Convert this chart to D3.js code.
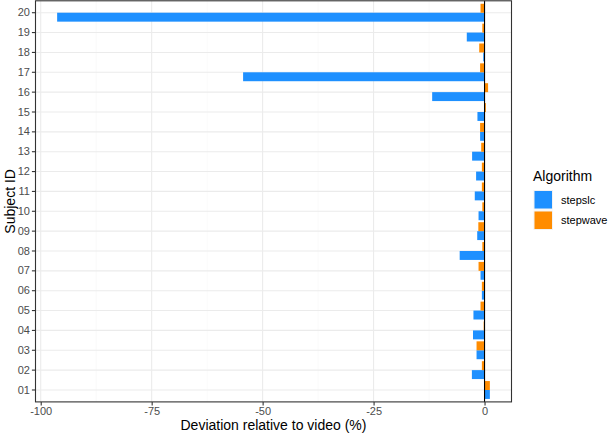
<!DOCTYPE html>
<html>
<head>
<meta charset="utf-8">
<script src="https://cdn.jsdelivr.net/npm/d3@7"></script>
<style>
  body { margin: 0; background: #fff; }
  svg { display: block; font-family: "Liberation Sans", Arial, Helvetica, sans-serif; }
</style>
</head>
<body>
<svg id="chart" width="609" height="436"></svg>
<script>
const subjects = ["01","02","03","04","05","06","07","08","09","10","11","12","13","14","15","16","17","18","19","20"];
const seriesNames = ["stepslc", "stepwave"];
const stepslc  = [1.2, -2.85, -1.8, -2.6, -2.5, -0.6, -0.9, -5.6, -1.65, -1.35, -2.2, -1.9, -2.8, -1.0, -1.6, -11.8, -54.4, -0.3, -4.0, -96.3];
const stepwave = [1.2, -0.6, -1.8, -0.2, -0.9, -0.6, -1.35, -0.5, -1.4, -0.5, -0.6, -0.6, -0.75, -1.0, 0.3, 0.8, -1.0, -1.2, -0.5, -0.9];
const xTicks = [-100, -75, -50, -25, 0];
const xMinor = [-87.5, -62.5, -37.5, -12.5];
const colors = { stepslc: "#1E90FF", stepwave: "#FF8C00" };

const svg = d3.select("#chart");
const L = 35.5, R = 511.5, T = 0.8, B = 401.9;

const dataMin = d3.min([...stepslc, ...stepwave]);
const dataMax = d3.max([...stepslc, ...stepwave]);
const pad = (dataMax - dataMin) * 0.05;
const x = d3.scaleLinear().domain([dataMin - pad, dataMax + pad]).range([L, R]);

const y = d3.scaleBand().domain(subjects.slice().reverse()).range([T, B])
  .paddingInner(0.1).paddingOuter(0.15);
const ySub = d3.scaleBand().domain(["stepwave", "stepslc"]).range([0, y.bandwidth()]);

// panel background
svg.append("rect").attr("x", L).attr("y", T).attr("width", R - L).attr("height", B - T).attr("fill", "#fff");

const grid = svg.append("g");
grid.selectAll(".minor").data(xMinor).join("line")
  .attr("x1", d => x(d)).attr("x2", d => x(d)).attr("y1", T).attr("y2", B)
  .attr("stroke", "#F5F5F5").attr("stroke-width", 0.55);
grid.selectAll(".majx").data(xTicks).join("line")
  .attr("x1", d => x(d)).attr("x2", d => x(d)).attr("y1", T).attr("y2", B)
  .attr("stroke", "#EBEBEB").attr("stroke-width", 1.1);
grid.selectAll(".majy").data(subjects).join("line")
  .attr("x1", L).attr("x2", R).attr("y1", d => y(d) + y.bandwidth() / 2).attr("y2", d => y(d) + y.bandwidth() / 2)
  .attr("stroke", "#EBEBEB").attr("stroke-width", 1.1);

// bars
const rows = [];
subjects.forEach((s, i) => {
  rows.push({ subject: s, series: "stepslc", value: stepslc[i] });
  rows.push({ subject: s, series: "stepwave", value: stepwave[i] });
});
svg.append("g").selectAll("rect").data(rows).join("rect")
  .attr("x", d => Math.min(x(0), x(d.value)))
  .attr("width", d => Math.abs(x(d.value) - x(0)))
  .attr("y", d => y(d.subject) + ySub(d.series))
  .attr("height", ySub.bandwidth())
  .attr("fill", d => colors[d.series]);

// zero line
svg.append("line").attr("x1", x(0)).attr("x2", x(0)).attr("y1", T).attr("y2", B)
  .attr("stroke", "#000").attr("stroke-width", 1.1);

// panel border
svg.append("rect").attr("x", L).attr("y", T).attr("width", R - L).attr("height", B - T)
  .attr("fill", "none").attr("stroke", "#333333").attr("stroke-width", 1.1);

// axes
const xAxis = svg.append("g").attr("transform", `translate(0,${B})`)
  .call(d3.axisBottom(x).tickValues(xTicks).tickSize(3.6).tickSizeOuter(0).tickFormat(d3.format("d")).tickPadding(2));
const yAxis = svg.append("g").attr("transform", `translate(${L},0)`)
  .call(d3.axisLeft(y).tickSize(3.6).tickSizeOuter(0).tickPadding(2));
[xAxis, yAxis].forEach(a => {
  a.select(".domain").remove();
  a.selectAll(".tick line").attr("stroke", "#333333").attr("stroke-width", 1.1);
  a.selectAll(".tick text").attr("fill", "#4D4D4D").style("font-size", "11px")
    .style("font-family", '"Liberation Sans", Arial, sans-serif');
});
xAxis.selectAll(".tick text").text(d => d < 0 ? "-" + Math.abs(d) : d);

// axis titles
svg.append("text").attr("x", (L + R) / 2).attr("y", 430).attr("text-anchor", "middle")
  .style("font-size", "14px").attr("fill", "#000").text("Deviation relative to video (%)");
svg.append("text").attr("transform", `translate(15,${(T + B) / 2}) rotate(-90)`).attr("text-anchor", "middle")
  .style("font-size", "14px").attr("fill", "#000").text("Subject ID");

// legend
const lg = svg.append("g").attr("transform", "translate(533,0)");
lg.append("text").attr("x", 0).attr("y", 181).style("font-size", "14px").attr("fill", "#000").text("Algorithm");
seriesNames.forEach((s, i) => {
  const yy = 190 + i * 20.5;
  lg.append("rect").attr("x", 0.5).attr("y", yy).attr("width", 19.5).attr("height", 19.5).attr("fill", "#F2F2F2");
  lg.append("rect").attr("x", 1.5).attr("y", yy + 1).attr("width", 17.5).attr("height", 17.5).attr("fill", colors[s]);
  lg.append("text").attr("x", 28).attr("y", yy + 10).attr("dy", "0.35em").style("font-size", "11px")
    .attr("fill", "#000").text(s);
});
</script>
</body>
</html>
